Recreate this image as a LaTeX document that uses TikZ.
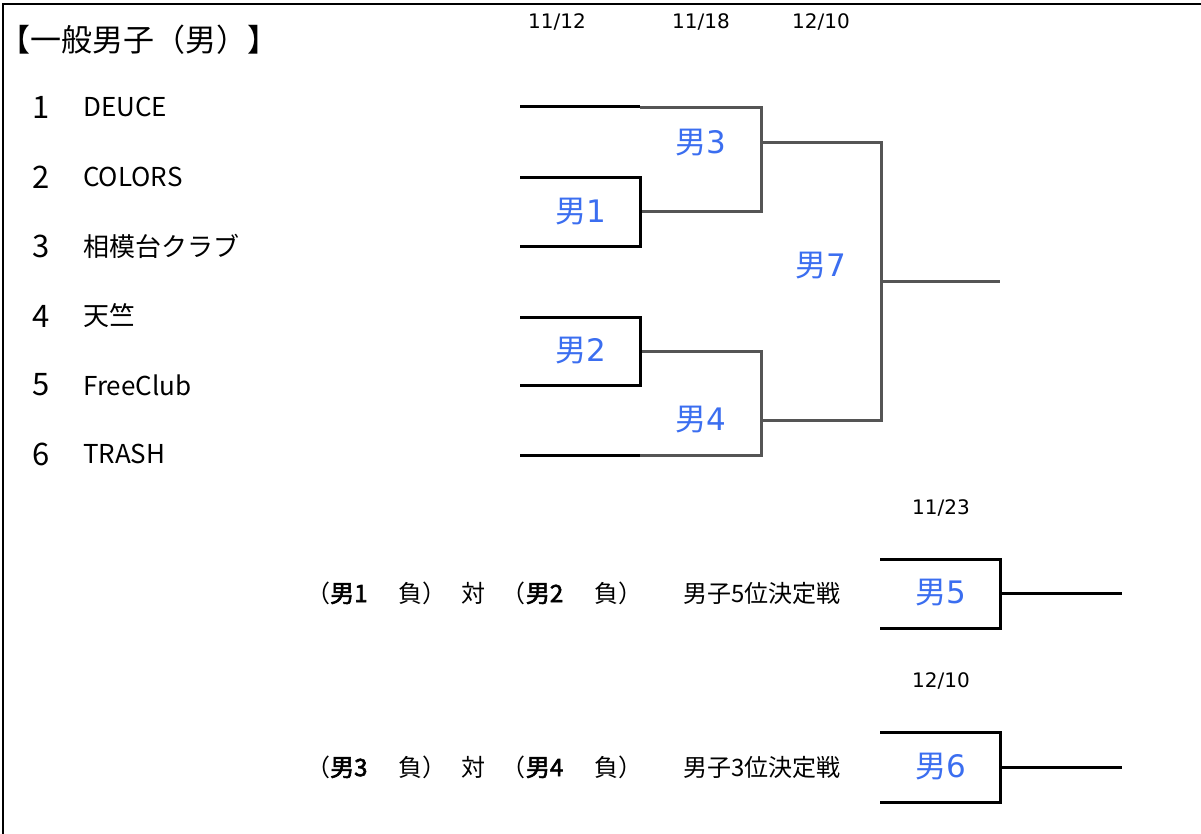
\documentclass[tikz,border=0pt]{standalone}
\usepackage{fontspec}
\setmainfont[AutoFakeBold=2.5]{Noto Sans CJK JP}
\newfontfamily\datefont{DejaVu Sans}
\definecolor{lbl}{RGB}{59,110,240}
\definecolor{brg}{RGB}{85,85,85}
\newcommand\mlab[1]{男{\datefont #1}}
\begin{document}
\begin{tikzpicture}[x=1pt,y=-1pt,
  blk/.style={line width=3pt, black},
  gry/.style={line width=3pt, brg},
  lab/.style={text=lbl, font=\fontsize{31}{34}\selectfont, inner sep=0pt},
  datelbl/.style={font=\datefont\fontsize{20}{24}\selectfont, inner sep=0pt},
  num/.style={font=\fontsize{31}{34}\selectfont, inner sep=0pt},
  team/.style={font=\fontsize{26}{29}\selectfont, inner sep=0pt, anchor=west},
  matchtxt/.style={font=\fontsize{24}{28}\selectfont, inner sep=0pt}]
\useasboundingbox (0,0) rectangle (1201,834);
\fill[white] (0,0) rectangle (1201,834);
\draw[line width=2pt] (3,834) -- (3,4) -- (1201,4);

% title
\node[anchor=west, inner sep=0pt, font=\fontsize{31}{34}\selectfont] (title) at (-1,40) {【一般男子（男）】};

% teams
\foreach \i/\t/\y in {1/DEUCE/107, 2/COLORS/177, 3/相模台クラブ/246, 4/天竺/316, 5/FreeClub/385, 6/TRASH/454}{
  \node[num] (n\i) at (41,\y) {\i};
  \node[team] (t\i) at (83,\y) {\t};
}

% dates
\node[datelbl] (d1) at (557,22) {11/12};
\node[datelbl] (d2) at (701,22) {11/18};
\node[datelbl] (d3) at (821,22) {12/10};
\node[datelbl] (d5) at (941,508) {11/23};
\node[datelbl] (d6) at (941,681) {12/10};

% bracket coordinates
\coordinate (a1) at (520,107);
\coordinate (a1m) at (640,107);
\coordinate (b1t) at (520,178);
\coordinate (b1b) at (520,247);
\coordinate (b2t) at (520,317);
\coordinate (b2b) at (520,385);
\coordinate (a6) at (520,455);
\coordinate (a6m) at (640,455);

% gray (later rounds)
\draw[gry] (640,108) -- (761,108) -- (761,212) -- (640,212);
\draw[gry] (640,351) -- (761,351) -- (761,455) -- (640,455);
\draw[gry] (761,143) -- (881,143) -- (881,420) -- (761,420);
\draw[gry] (881,281) -- (1000,281);

% black (first round)
\draw[blk] (a1) -- (a1m);
\draw[blk] (b1t) -- (640,178) -- (640,247) -- (b1b);
\draw[blk] (b2t) -- (640,317) -- (640,385) -- (b2b);
\draw[blk] (a6) -- (a6m);

% match labels
\node[lab] (m1) at (581,212) {\mlab{1}};
\node[lab] (m2) at (581,351) {\mlab{2}};
\node[lab] (m3) at (701,143) {\mlab{3}};
\node[lab] (m4) at (701,420) {\mlab{4}};
\node[lab] (m7) at (821,266) {\mlab{7}};

% placement matches
\draw[blk] (880,559) -- (1000,559) -- (1000,628) -- (880,628);
\draw[blk] (1000,593) -- (1122,593);
\node[lab] (m5) at (941,593) {\mlab{5}};
\draw[blk] (880,732) -- (1000,732) -- (1000,802) -- (880,802);
\draw[blk] (1000,767) -- (1122,767);
\node[lab] (m6) at (941,767) {\mlab{6}};

\node[matchtxt, anchor=west] (p5) at (306,593) {（\textbf{男1}\hspace{1.3em}負）\hspace{0.6em}対\hspace{0.7em}（\textbf{男2}\hspace{1.3em}負）};
\node[matchtxt] (k5) at (762,593) {男子5位決定戦};
\node[matchtxt, anchor=west] (p6) at (306,767) {（\textbf{男3}\hspace{1.3em}負）\hspace{0.6em}対\hspace{0.7em}（\textbf{男4}\hspace{1.3em}負）};
\node[matchtxt] (k6) at (762,767) {男子3位決定戦};
\end{tikzpicture}
\end{document}
